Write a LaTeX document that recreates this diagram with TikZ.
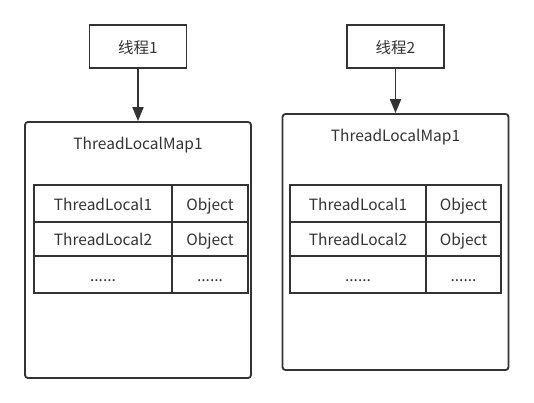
\documentclass[tikz,border=0pt]{standalone}
\usepackage{fontspec}
\setmainfont{Noto Sans CJK SC}
\usetikzlibrary{arrows.meta}
\definecolor{ln}{HTML}{333333}
\begin{document}
\begin{tikzpicture}[x=1pt,y=-1pt,
  every node/.style={font=\fontsize{15.5}{17}\selectfont, text=ln, inner sep=0pt, text height=13.5pt, text depth=0pt},
  thread/.style={draw=ln, line width=1.8pt, minimum width=97pt, minimum height=43pt},
  mapbox/.style={draw=ln, line width=1.8pt, rounded corners=3pt, minimum width=226pt, minimum height=256pt},
  cell/.style={draw=ln, line width=1.8pt},
  arr/.style={draw=ln, line width=1.8pt, -{Triangle[length=14pt,width=11pt]}}
]
\useasboundingbox[fill=white] (0,0) rectangle (534,403);

% left
\node[thread] (t1) at (138,46.5) {线程1};
\node[mapbox] (m1) at (138,250) {};
\node (h1) at (138,143) {ThreadLocalMap1};
\node[cell, minimum width=138pt, minimum height=37pt] (a1) at (103,203.5) {ThreadLocal1};
\node[cell, minimum width=76pt, minimum height=37pt] (b1) at (210,203.5) {Object};
\node[cell, minimum width=138pt, minimum height=34pt] (a2) at (103,239) {ThreadLocal2};
\node[cell, minimum width=76pt, minimum height=34pt] (b2) at (210,239) {Object};
\node[cell, minimum width=138pt, minimum height=37pt] (a3) at (103,274.5) {};
\node[cell, minimum width=76pt, minimum height=37pt] (b3) at (210,274.5) {};
\node (d1) at (103,275) {......};
\node (e1) at (210,275) {......};
\draw[arr] (t1) -- (m1);

% right
\node[thread] (t2) at (395.5,46.5) {线程2};
\node[mapbox] (m2) at (395.5,242) {};
\node (h2) at (395.5,135) {ThreadLocalMap1};
\node[cell, minimum width=136pt, minimum height=37pt] (c1) at (358,203.5) {ThreadLocal1};
\node[cell, minimum width=75pt, minimum height=37pt] (f1) at (463.5,203.5) {Object};
\node[cell, minimum width=136pt, minimum height=34pt] (c2) at (358,239) {ThreadLocal2};
\node[cell, minimum width=75pt, minimum height=34pt] (f2) at (463.5,239) {Object};
\node[cell, minimum width=136pt, minimum height=37pt] (c3) at (358,274.5) {};
\node[cell, minimum width=75pt, minimum height=37pt] (f3) at (463.5,274.5) {};
\node (d2) at (358,275) {......};
\node (e2) at (463.5,275) {......};
\draw[arr] (t2) -- (m2);
\end{tikzpicture}
\end{document}
